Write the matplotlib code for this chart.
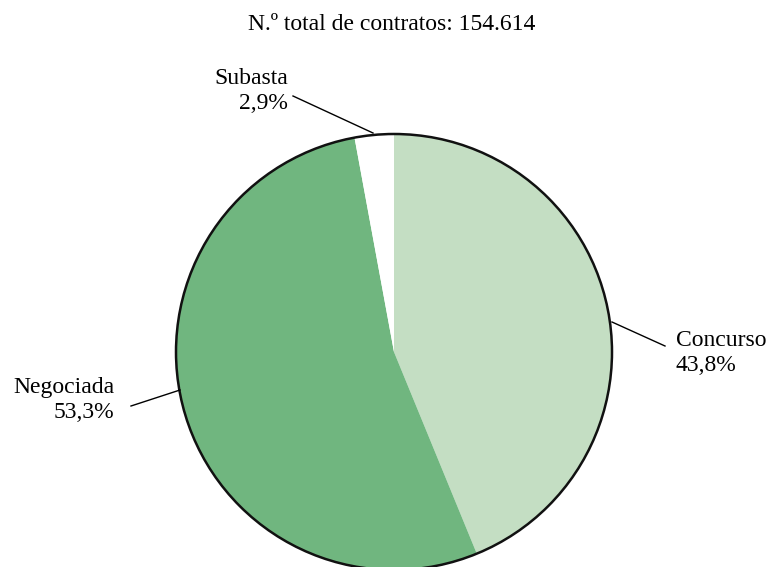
import matplotlib.pyplot as plt
from matplotlib.patches import Circle

# data
labels = ["Concurso", "Negociada", "Subasta"]
shares = [43.8, 53.3, 2.9]
colors = ["#c4dec3", "#70b67f", "#ffffff"]
title = "N.º total de contratos: 154.614"

plt.rcParams["font.family"] = ["Liberation Serif", "DejaVu Serif"]

W, H = 770, 567
fig = plt.figure(figsize=(W / 100, H / 100), dpi=100)
ax = fig.add_axes([0, 0, 1, 1])

cx, cy, r = 394, H - 352, 218
ax.pie(shares, colors=colors, startangle=90, counterclock=False,
       center=(cx, cy), radius=r, frame=True, wedgeprops=dict(linewidth=0))
ax.set_xlim(0, W)
ax.set_ylim(0, H)
ax.set_aspect("equal")
ax.axis("off")
ax.add_patch(Circle((cx, cy), r, fill=False, edgecolor="#111111", linewidth=1.8))

fs = 17
ls = 1.25
fig.text(392 / W, 1 - 24 / H, title, ha="center", va="center", fontsize=fs)

def lbl(i):
    return f"{labels[i]}\n{shares[i]:.1f}%".replace(".", ",")

# Concurso
ax.plot([612, 665], [H - 322, H - 346], color="black", lw=1)
ax.text(676, H - 353, lbl(0), ha="left", va="center", fontsize=fs, linespacing=ls)
# Negociada
ax.plot([131, 180], [H - 406, H - 390], color="black", lw=1)
ax.text(114, H - 400, lbl(1), ha="right", va="center", fontsize=fs,
        multialignment="right", linespacing=ls)
# Subasta
ax.plot([293, 373], [H - 96, H - 133], color="black", lw=1)
ax.text(288, H - 91, lbl(2), ha="right", va="center", fontsize=fs,
        multialignment="right", linespacing=ls)

fig.savefig("out.png", dpi=100)
